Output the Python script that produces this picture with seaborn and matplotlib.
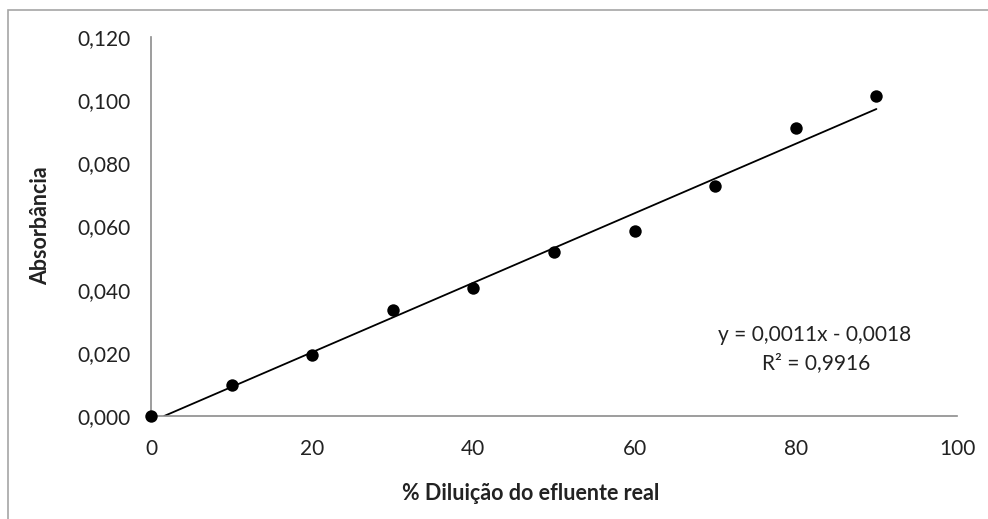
import numpy as np
import pandas as pd
import matplotlib
matplotlib.use("Agg")
import matplotlib.pyplot as plt
import seaborn as sns
from matplotlib.patches import Rectangle
from matplotlib.ticker import FuncFormatter

# Measured absorbance for each dilution level
diluicao = [0, 10, 20, 30, 40, 50, 60, 70, 80, 90]
absorbancia = [0.0, 0.0098, 0.0193, 0.0336, 0.0405, 0.0519, 0.0586, 0.0728, 0.0912, 0.1013]

# Linear trendline as reported on the chart
slope = 0.0011
intercept = -0.0018
r2 = 0.9916

x_ticks = [0, 20, 40, 60, 80, 100]
y_ticks = [0.0, 0.02, 0.04, 0.06, 0.08, 0.10, 0.12]

sns.set_theme(style="white")
plt.rcParams["font.family"] = ["Lato", "DejaVu Sans"]

W, H = 988, 519
fig = plt.figure(figsize=(W / 100, H / 100), dpi=100)
ax = fig.add_axes([151 / W, 1 - 416 / H, (957 - 151) / W, (416 - 37) / H])

df = pd.DataFrame({"x": diluicao, "y": absorbancia})

# Trendline from the fitted equation, clipped to y >= 0
x0 = max(0.0, -intercept / slope)
x_fit = [x0, max(diluicao)]
trend = pd.DataFrame({"x": x_fit, "y": [slope * v + intercept for v in x_fit]})
sns.lineplot(data=trend, x="x", y="y", ax=ax, color="black", linewidth=1.3, zorder=2)

sns.scatterplot(data=df, x="x", y="y", ax=ax, color="black", s=80,
                edgecolor="black", linewidth=0, zorder=3, clip_on=False)

ax.set_xlim(0, 100)
ax.set_ylim(0, 0.12)
ax.set_xticks(x_ticks)
ax.set_yticks(y_ticks)
ax.yaxis.set_major_formatter(FuncFormatter(lambda v, p: f"{v:.3f}".replace(".", ",")))
ax.xaxis.set_major_formatter(FuncFormatter(lambda v, p: f"{v:.0f}"))
ax.set_xlabel("")
ax.set_ylabel("")

spine_color = "#8c8c8c"
for side in ["top", "right"]:
    ax.spines[side].set_visible(False)
for side in ["left", "bottom"]:
    ax.spines[side].set_color(spine_color)
    ax.spines[side].set_linewidth(1.2)
ax.tick_params(axis="both", which="major", direction="out", length=5.5, width=1.0,
               color=spine_color, labelsize=15, labelcolor="#222222")
ax.tick_params(axis="y", pad=9)
ax.tick_params(axis="x", pad=11)

fig.text(531 / W, 1 - 493 / H, "% Diluição do efluente real", ha="center", va="center",
         fontsize=15.5, fontweight="bold", color="#222222")
fig.text(41 / W, 1 - 226 / H, "Absorbância", ha="center", va="center", rotation=90,
         fontsize=15.5, fontweight="bold", color="#222222")

eq = f"y = {slope:.4f}x - {abs(intercept):.4f}".replace(".", ",")
fig.text(815 / W, 1 - 335 / H, eq, ha="center", va="center", fontsize=15, color="#222222")
fig.text(816 / W, 1 - 363 / H, f"R² = {r2:.4f}".replace(".", ","), ha="center", va="center",
         fontsize=15, color="#222222")

# Chart frame
fig.patches.append(Rectangle((8 / W, -0.05), 1.05, 1 - 10 / H + 0.05, transform=fig.transFigure,
                             fill=False, edgecolor="#a6a6a6", linewidth=1.2, zorder=0))

fig.savefig("out.png", dpi=100, facecolor="white")
